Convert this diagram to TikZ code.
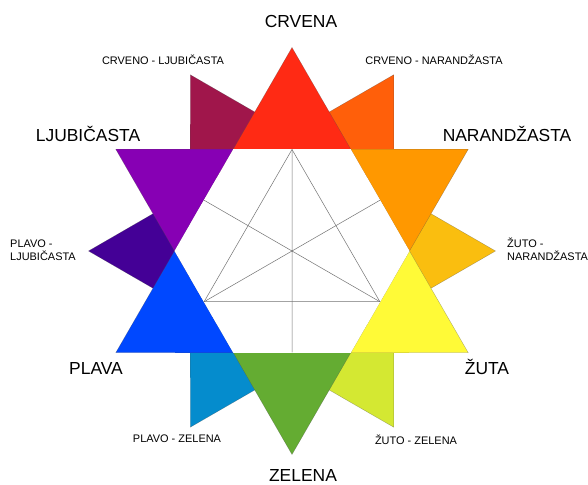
\documentclass[tikz,border=0pt]{standalone}
\usepackage{fontspec}
\setmainfont{Liberation Sans}
\usepackage{xcolor}
\usepackage{tikz}

\definecolor{crvena}{RGB}{255,42,20}
\definecolor{crvenoljub}{RGB}{160,22,75}
\definecolor{crvenonar}{RGB}{255,95,10}
\definecolor{narandzasta}{RGB}{255,152,0}
\definecolor{zutonar}{RGB}{250,190,15}
\definecolor{zuta}{RGB}{255,250,55}
\definecolor{zutozel}{RGB}{212,232,50}
\definecolor{zelena}{RGB}{100,172,50}
\definecolor{plavozel}{RGB}{5,140,205}
\definecolor{plava}{RGB}{0,72,255}
\definecolor{plavoljub}{RGB}{68,0,150}
\definecolor{ljubicasta}{RGB}{135,0,180}

\begin{document}
\begin{tikzpicture}[x=1bp,y=1bp]
\tikzstyle{tri}=[draw=black!70,draw opacity=0.5,line width=0.3pt]
\tikzstyle{guide}=[draw=black!55,line width=0.5pt]
\tikzstyle{big}=[anchor=base,inner sep=0pt,font=\fontsize{17.5}{20}\selectfont]
\tikzstyle{small}=[anchor=base,inner sep=0pt,font=\fontsize{11}{13}\selectfont]
\useasboundingbox (0,0) rectangle (588,485);
\fill[white] (0,0) rectangle (588,485);
\begin{scope}[shift={(292,234)}]
% tertiary colours, behind
\fill[tri,fill=crvenoljub] (90:117.5) -- (120:203.5) -- (150:117.5) -- cycle;
\fill[tri,fill=crvenonar] (30:117.5) -- (60:203.5) -- (90:117.5) -- cycle;
\fill[tri,fill=zutonar] (-30:117.5) -- (0:203.5) -- (30:117.5) -- cycle;
\fill[tri,fill=zutozel] (-90:117.5) -- (-60:203.5) -- (-30:117.5) -- cycle;
\fill[tri,fill=plavozel] (-150:117.5) -- (-120:203.5) -- (-90:117.5) -- cycle;
\fill[tri,fill=plavoljub] (150:117.5) -- (180:203.5) -- (210:117.5) -- cycle;
% primary and secondary colours
\fill[tri,fill=crvena] (60:117.5) -- (90:203.5) -- (120:117.5) -- cycle;
\fill[tri,fill=narandzasta] (0:117.5) -- (30:203.5) -- (60:117.5) -- cycle;
\fill[tri,fill=zuta] (-60:117.5) -- (-30:203.5) -- (0:117.5) -- cycle;
\fill[tri,fill=zelena] (-120:117.5) -- (-90:203.5) -- (-60:117.5) -- cycle;
\fill[tri,fill=plava] (180:117.5) -- (210:203.5) -- (240:117.5) -- cycle;
\fill[tri,fill=ljubicasta] (120:117.5) -- (150:203.5) -- (180:117.5) -- cycle;
% white hexagon with the guide lines
\fill[white] (0:117.5) -- (60:117.5) -- (120:117.5) -- (180:117.5) -- (240:117.5) -- (300:117.5) -- cycle;
\draw[guide] (90:101.5) -- (210:101.5) -- (330:101.5) -- cycle;
\draw[guide] (90:101.5) -- (270:101.5) (210:101.5) -- (30:101.5) (330:101.5) -- (150:101.5);
\end{scope}
% labels
\node[big] (crv) at (301,457) {CRVENA};
\node[big] (ljub) at (88,343) {LJUBIČASTA};
\node[big] (nar) at (507,343) {NARANDŽASTA};
\node[big] (pla) at (96,110) {PLAVA};
\node[big] (zut) at (487,110) {ŽUTA};
\node[big] (zel) at (303,3.5) {ZELENA};
\node[small] (crvljub) at (163,420) {CRVENO - LJUBIČASTA};
\node[small] (crvnar) at (434,420) {CRVENO - NARANDŽASTA};
\node[small] (plazel) at (177,42) {PLAVO - ZELENA};
\node[small] (zutzel) at (416,40) {ŽUTO - ZELENA};
\node[small,anchor=north west,align=left] (plaljub) at (10,245) {PLAVO -\\LJUBIČASTA};
\node[small,anchor=north west,align=left] (zutnar) at (507,247.5) {ŽUTO -\\NARANDŽASTA};
\end{tikzpicture}
\end{document}
